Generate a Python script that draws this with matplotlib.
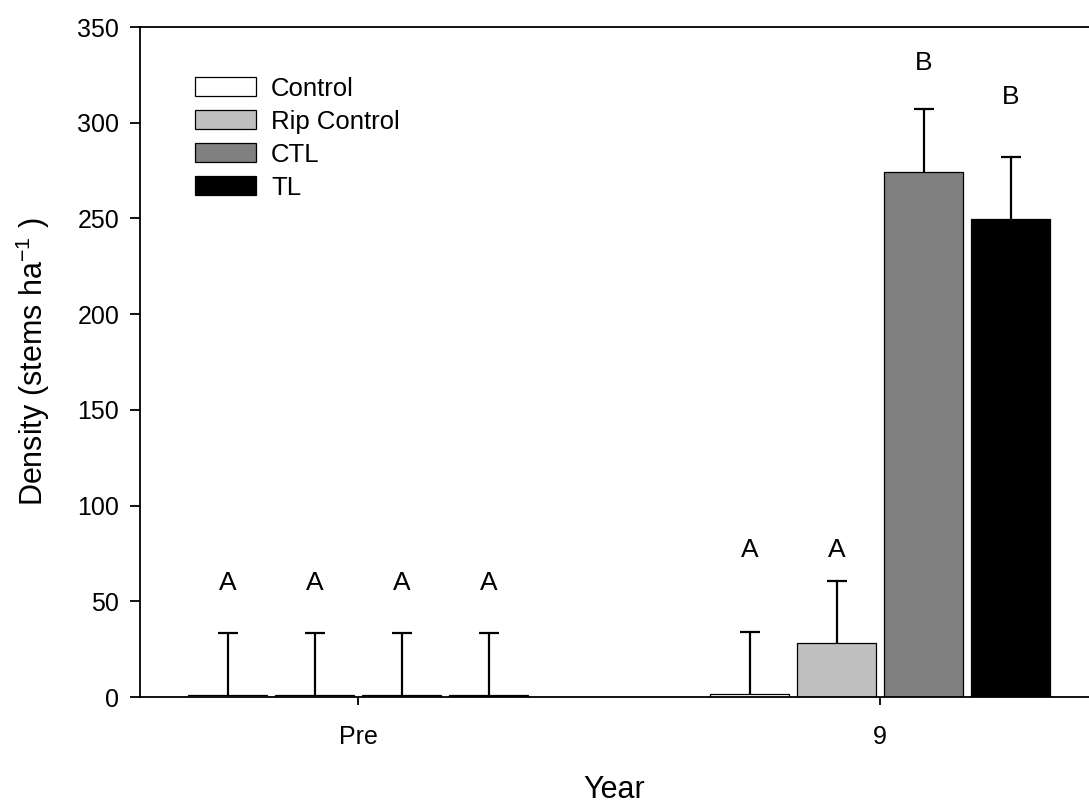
#!/usr/bin/env python3
"""Densidade de caules por tratamento — Pre vs ano 9."""

import numpy as np
import matplotlib
matplotlib.use("Agg")
import matplotlib.pyplot as plt

plt.rcParams["font.family"] = ["Liberation Sans", "DejaVu Sans"]
plt.rcParams["mathtext.fontset"] = "custom"
plt.rcParams["mathtext.rm"] = "Liberation Sans"
plt.rcParams["mathtext.default"] = "regular"

# ── Dados ──────────────────────────────────────────────────────
anos = ["Pre", "9"]
tratamentos = ["Control", "Rip Control", "CTL", "TL"]
cores = ["#ffffff", "#c0c0c0", "#808080", "#000000"]

# média por tratamento (linhas) e ano (colunas)
media = {
    "Control": [0.8, 1.4],
    "Rip Control": [0.8, 28.4],
    "CTL": [0.8, 274.4],
    "TL": [0.8, 249.6],
}
erro = {
    "Control": [32.5, 32.4],
    "Rip Control": [32.5, 32.4],
    "CTL": [32.5, 32.6],
    "TL": [32.5, 32.5],
}
letras = {
    "Control": ["A", "A"],
    "Rip Control": ["A", "A"],
    "CTL": ["A", "B"],
    "TL": ["A", "B"],
}
pos_letras = {
    "Control": [59.5, 76.8],
    "Rip Control": [59.5, 76.8],
    "CTL": [59.5, 331],
    "TL": [59.5, 313.3],
}

fig = plt.figure(figsize=(10.89, 8.06), dpi=100)
ax = fig.add_axes([0.1286, 0.1352, 0.8714, 0.8313])

x = np.arange(len(anos))
passo = 0.1667
largura = 0.151

for i, trat in enumerate(tratamentos):
    xi = x + (i - 1.5) * passo
    ax.bar(xi, media[trat], width=largura, color=cores[i],
           edgecolor="black", linewidth=0.9, label=trat, zorder=2)
    eb = ax.errorbar(xi, media[trat], yerr=[np.zeros(len(anos)), erro[trat]],
                     fmt="none", ecolor="black", elinewidth=1.6, capsize=7,
                     capthick=1.6, zorder=3)
    # só a barra de erro superior: esconder o "cap" inferior
    for cl in eb[1]:
        if np.allclose(cl.get_ydata(), media[trat]):
            cl.set_visible(False)
    for xv, yv, t in zip(xi, pos_letras[trat], letras[trat]):
        ax.text(xv, yv, t, ha="center", va="center", fontsize=19)

ax.set_xlim(-0.4176, 1.40)
ax.set_ylim(0, 350)
ax.set_xticks(x)
ax.set_xticklabels(anos, fontsize=18)
ax.set_yticks(np.arange(0, 351, 50))
ax.tick_params(axis="y", labelsize=18, direction="out", length=7, width=1.3, pad=8)
ax.tick_params(axis="x", direction="out", length=6, width=1.3, pad=14)
ax.spines["right"].set_visible(False)
for lado in ["left", "bottom", "top"]:
    ax.spines[lado].set_linewidth(1.3)

ax.set_ylabel("Density (stems ha$^{-1}$ )", fontsize=22, labelpad=18)
ax.set_xlabel("Year", fontsize=22, labelpad=19)

ax.legend(loc="upper left", bbox_to_anchor=(0.058, 0.926), frameon=False,
          fontsize=18.5, handlelength=2.36, handleheight=0.74,
          labelspacing=0.35, handletextpad=0.6, borderaxespad=0, borderpad=0)

fig.savefig("out.png", dpi=100)
